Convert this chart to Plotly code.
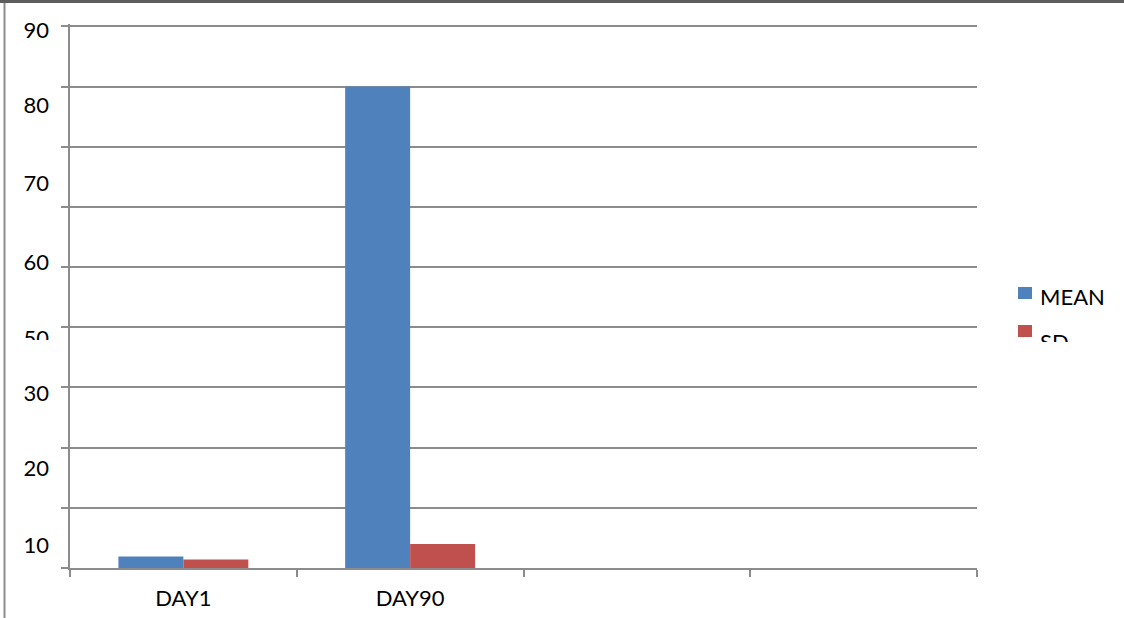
import plotly.graph_objects as go

# Categories (two measured days plus two empty slots on the axis)
categories = ["DAY1", "DAY90", " ", "  "]
mean_values = [1.9, 80.0, None, None]
sd_values = [1.4, 4.0, None, None]
series_names = ["MEAN", "SD"]

# Y-axis labels as they sit beside the grid
y_label_values = [89.3, 76.9, 63.9, 50.8, 38.2, 29.1, 16.6, 3.8]
y_label_text = ["90", "80", "70", "60", "50", "30", "20", "10"]

BLUE = "#4F81BD"
RED = "#C0504D"
GRID = "#8C8C8C"
FONT = "Lato"
Y_MAX = 90.4  # a little headroom so the 90 gridline is drawn

W, H = 1124, 618
L, R, T, B = 70, 147, 24, 50
PW, PH = W - L - R, H - T - B


def px_x(x):
    return (x - L) / PW


def px_y(y):
    return 1 - (y - T) / PH


fig = go.Figure()
fig.add_trace(go.Bar(x=categories, y=mean_values, name=series_names[0],
                     marker=dict(color=BLUE, line=dict(width=0))))
fig.add_trace(go.Bar(x=categories, y=sd_values, name=series_names[1],
                     marker=dict(color=RED, line=dict(width=0))))

fig.update_layout(
    width=W, height=H,
    margin=dict(l=L, r=R, t=T, b=B, pad=0, autoexpand=False),
    paper_bgcolor="white", plot_bgcolor="white",
    font=dict(family=FONT, size=22, color="black"),
    barmode="group", bargap=0.427, bargroupgap=0,
    showlegend=False,
    xaxis=dict(type="category", categoryorder="array", categoryarray=categories,
               range=[-0.5, 3.5], tickson="boundaries", ticks="outside",
               ticklen=7, tickwidth=2, tickcolor=GRID,
               showline=True, linecolor=GRID, linewidth=2,
               showgrid=False, zeroline=False, automargin=False,
               tickfont=dict(family=FONT, size=22, color="black"),
               ticklabelstandoff=10),
    yaxis=dict(range=[0, Y_MAX], dtick=10, tick0=0, ticks="outside", ticklen=7,
               tickwidth=2, tickcolor=GRID, showline=True, linecolor=GRID,
               linewidth=2, showgrid=True, gridcolor=GRID, gridwidth=2,
               zeroline=False, showticklabels=False, automargin=False),
    yaxis2=dict(overlaying="y", side="left", range=[0, Y_MAX],
                tickmode="array", tickvals=y_label_values, ticktext=y_label_text,
                ticks="", showgrid=False, zeroline=False, showline=False,
                automargin=False,
                tickfont=dict(family=FONT, size=22, color="black"),
                ticklabelstandoff=20),
)

# invisible trace so the label axis is drawn
fig.add_trace(go.Scatter(x=[categories[0]], y=[0], yaxis="y2", mode="markers",
                         marker=dict(opacity=0), showlegend=False,
                         hoverinfo="skip"))

# legend keys and names, drawn to the right of the plot
legend_rows = [(series_names[0], BLUE, 287, 296), (series_names[1], RED, 325, 341)]
for name, color, key_top, text_mid in legend_rows:
    fig.add_shape(type="rect", xref="paper", yref="paper",
                  x0=px_x(1018), x1=px_x(1032), y0=px_y(key_top),
                  y1=px_y(key_top + 12), fillcolor=color, line=dict(width=0),
                  layer="above")
    fig.add_annotation(xref="paper", yref="paper", x=px_x(1039), y=px_y(text_mid),
                       xanchor="left", yanchor="middle", text=name,
                       showarrow=False, borderpad=0,
                       font=dict(family=FONT, size=22, color="black"))

# page frame: heavy top rule and thin left rule
fig.add_shape(type="line", xref="paper", yref="paper",
              x0=px_x(0), x1=px_x(W), y0=px_y(1.5), y1=px_y(1.5),
              line=dict(color="#5E5E5E", width=3), layer="above")
fig.add_shape(type="line", xref="paper", yref="paper",
              x0=px_x(4.5), x1=px_x(4.5), y0=px_y(3), y1=px_y(H),
              line=dict(color="#8C8C8C", width=2), layer="above")

# white masks trimming the "50" label and the SD name
for (x0, y0, w, h) in [(12, 340, 50, 12), (1036, 342, 80, 24)]:
    fig.add_annotation(xref="paper", yref="paper", x=px_x(x0), y=px_y(y0),
                       xanchor="left", yanchor="top", text=" ", showarrow=False,
                       width=w, height=h, bgcolor="white", borderpad=0,
                       borderwidth=0)

fig.write_html("out.html")
